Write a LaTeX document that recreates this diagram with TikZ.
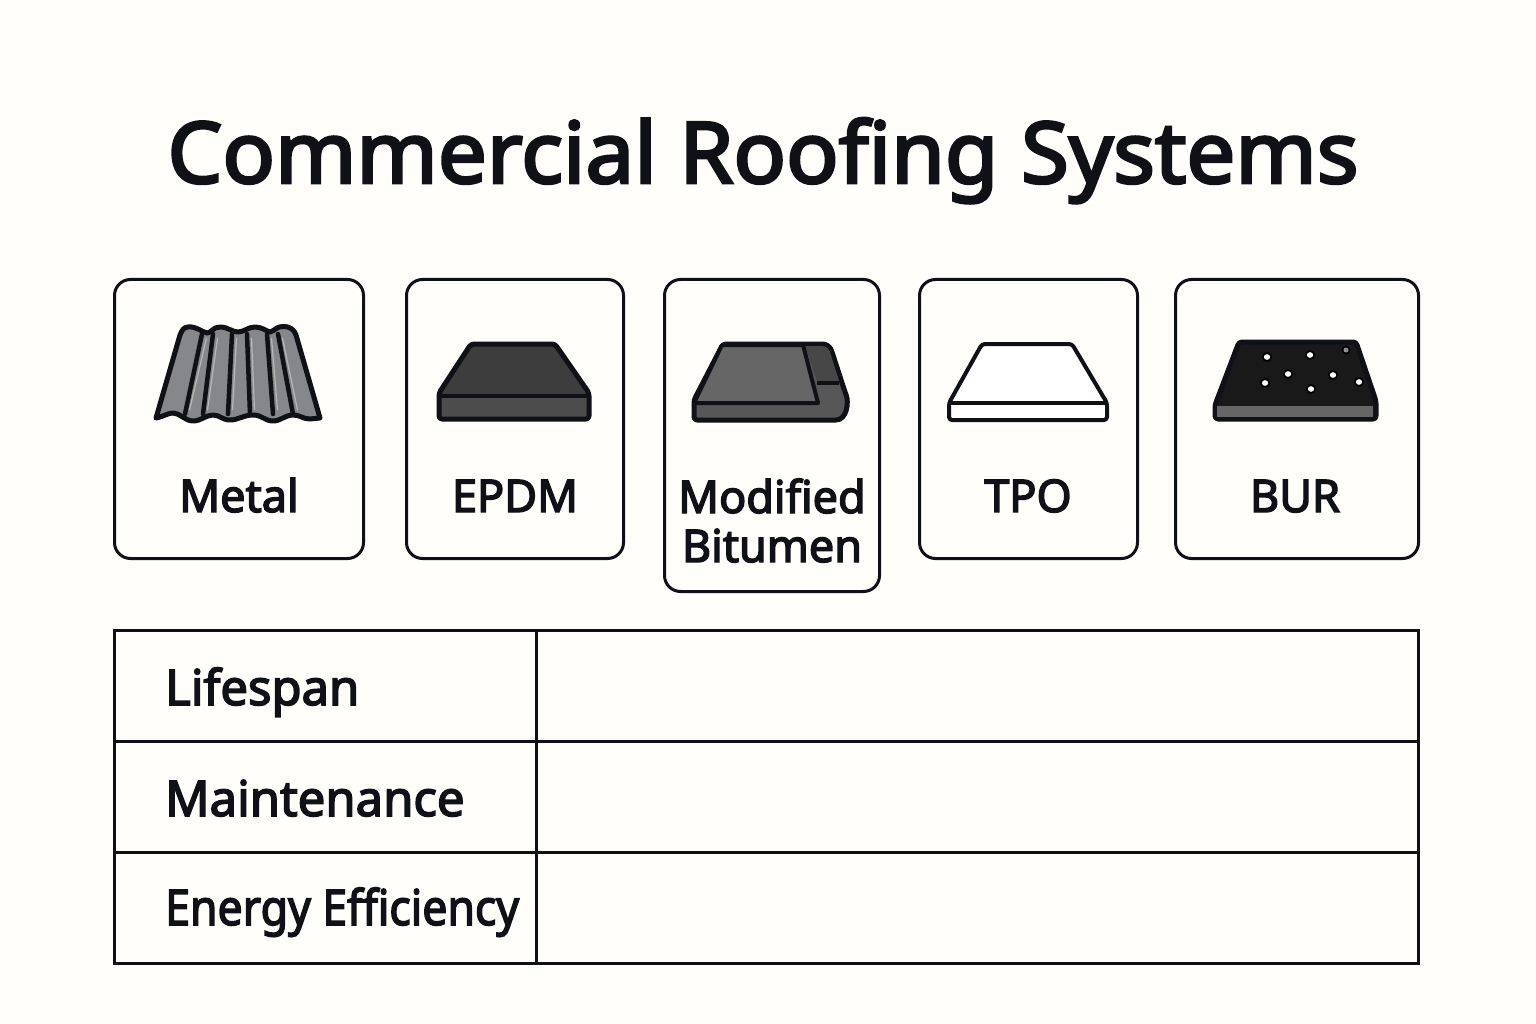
\documentclass[tikz,border=0pt]{standalone}
\usepackage{fontspec}
\setmainfont{Noto Sans}[FakeBold=3.2]
\usepackage{tikz}
\definecolor{paper}{HTML}{FFFEFB}
\definecolor{ink}{HTML}{0F1116}
\definecolor{steel}{HTML}{85878A}
\tikzset{
card/.style={draw=ink,line width=3pt,rounded corners=16pt,anchor=north west,inner sep=0pt},
cardlabel/.style={anchor=base,inner sep=0pt,text=ink,font=\fontsize{45}{45}\selectfont},
rowlabel/.style={anchor=base west,inner sep=0pt,text=ink,font=\fontsize{49}{49}\selectfont},
outline/.style={draw=ink,line width=5pt,line join=round,rounded corners=3pt},
rib/.style={draw=ink,line width=4.5pt,line cap=round},
gridline/.style={draw=ink,line width=3pt}
}
\begin{document}
\begin{tikzpicture}[x=1pt,y=-1pt]
\useasboundingbox (0,0) rectangle (1536,1024);
\fill[paper] (0,0) rectangle (1536,1024);
%title
\node[anchor=base,inner sep=0pt,text=ink,xscale=1.024,transform shape,font=\fontsize{85}{85}\selectfont] (title) at (763,183) {Commercial Roofing Systems};
%cards
\node[card,minimum width=249pt,minimum height=279pt] (metal) at (113,278) {};
\node[card,minimum width=217pt,minimum height=279pt] (epdm) at (405,278) {};
\node[card,minimum width=215pt,minimum height=312pt] (modbit) at (663,278) {};
\node[card,minimum width=218pt,minimum height=279pt] (tpo) at (918,278) {};
\node[card,minimum width=243pt,minimum height=279pt] (bur) at (1174,278) {};
\node[cardlabel] (metallabel) at (239,512) {Metal};
\node[cardlabel] (epdmlabel) at (515,512) {EPDM};
\node[cardlabel] (modlabel) at (772,513) {Modified};
\node[cardlabel] (bitlabel) at (772,562) {Bitumen};
\node[cardlabel] (tpolabel) at (1028,512) {TPO};
\node[cardlabel] (burlabel) at (1295,512) {BUR};
%metal icon
\draw[draw=ink,line width=5pt,line join=round,fill=steel] (156,418) .. controls (165,416) and (168,413) .. (173,413) .. controls (180,413) and (185,421) .. (193,421) .. controls (201,421) and (206,415) .. (213,415) .. controls (220,415) and (222,420) .. (230,420) .. controls (238,420) and (244,415) .. (253,415) .. controls (262,415) and (265,421) .. (273,421) .. controls (281,421) and (285,415) .. (293,415) .. controls (300,415) and (303,419) .. (310,419) -- (320,418)
-- (296,335) .. controls (293,326) and (283,325) .. (277,328) .. controls (274,329) and (273,332) .. (270,332) .. controls (266,331) and (262,327) .. (255,327) .. controls (248,327) and (244,332) .. (238,332) .. controls (232,332) and (228,327) .. (220,327) .. controls (213,327) and (211,333) .. (207,333) .. controls (202,332) and (196,326) .. (188,327) .. controls (184,327) and (182,330) .. (180,335) -- cycle;
\foreach \xa/\xb in {202/185,213/203,232/228,247/250,267/273,278/293}{
  \draw[rib] (\xa,334) -- (\xb,414);
  \draw[black!28,line width=1.2pt] (\xa+4.5,338) -- (\xb+4.5,410);
}
%epdm icon
\fill[fill=black!76] (470,343) -- (556,343) -- (590,396) -- (438,396) -- cycle;
\fill[fill=black!70] (438,396) rectangle (590,420);
\draw[outline] (471,344) -- (555,344) -- (589,393) -- (589,419) -- (439,419) -- (439,393) -- cycle;
\draw[draw=ink,line width=4.5pt] (439,396) -- (589,396);
%modified bitumen icon
\draw[outline,fill=black!66] (723,344) -- (820,344) .. controls (826,344) and (830,347) .. (832,352) -- (845,392) .. controls (849,402) and (847,420) .. (833,420) -- (694,420) -- (694,400) -- cycle;
\fill[fill=black!72] (805,346) -- (821,346) .. controls (826,346) and (829,349) .. (830,352) -- (839,381) -- (817,381) -- cycle;
\draw[draw=ink,line width=4pt,fill=black!60,line join=round] (722,345) -- (803,345) -- (818,403) -- (694,403) -- cycle;
\draw[draw=ink,line width=4pt] (817,383) -- (839,383);
%tpo icon
\draw[outline,fill=white,line width=4pt] (982,344) -- (1072,344) -- (1107,403) -- (1107,420) -- (949,420) -- (949,403) -- cycle;
\draw[draw=ink,line width=4pt] (949,403) -- (1107,403);
%bur icon
\draw[outline,fill=black!90] (1239,342) -- (1356,342) -- (1376,401) -- (1376,419) -- (1215,419) -- (1215,405) -- cycle;
\fill[fill=black!60] (1217,406) rectangle (1373,417);
\foreach \px/\py in {1267/357,1310/355,1288/374,1333/375,1265/383,1311/389,1359/382}{
  \fill[black] (\px,\py) circle (5pt);
  \fill[white] (\px,\py) ellipse (3.2pt and 2.8pt);
}
\fill[black] (1346,350) circle (4.5pt);
\fill[black!45] (1346,350) circle (2.5pt);
%table
\draw[gridline] (114,630) rectangle (1418,963);
\draw[gridline] (114,741) -- (1418,741);
\draw[gridline] (114,852) -- (1418,852);
\draw[gridline] (536,630) -- (536,963);
\node[rowlabel] (lifespan) at (165,705) {Lifespan};
\node[rowlabel] (maintenance) at (165,816) {Maintenance};
\node[rowlabel,xscale=.91,transform shape] (energy) at (165,925) {Energy Efficiency};
\end{tikzpicture}
\end{document}
